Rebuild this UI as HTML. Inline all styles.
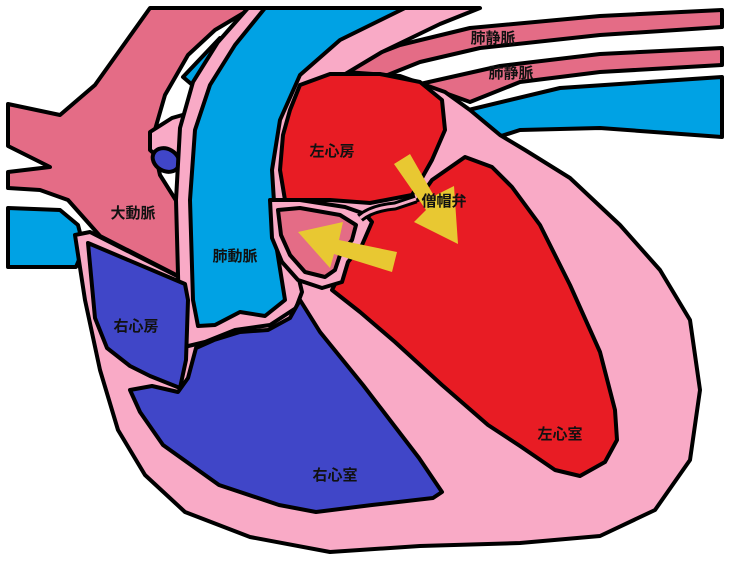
<!DOCTYPE html>
<html><head><meta charset="utf-8"><style>
html,body{margin:0;padding:0;background:#fff;}
svg{display:block;}
text{font-family:"Liberation Sans","Noto Sans CJK JP",sans-serif;font-size:15px;fill:#111;font-weight:bold;text-anchor:middle;}
</style></head><body>
<svg width="730" height="571" viewBox="0 0 730 571" xmlns="http://www.w3.org/2000/svg">
<g stroke="#000" stroke-width="4" stroke-linejoin="round">
<!-- left blue vessel -->
<polygon fill="#00A2E4" points="8,208 60,210 78,225 84,248 76,267 8,267"/>
<!-- pulmonary vein stripes -->
<polygon fill="#E46C86" points="330,72 400,45 470,28 600,16 722,10 722,27 600,35 480,48 420,62 370,82"/>
<polygon fill="#E46C86" points="420,84 500,66 600,54 722,48 722,65 600,72 520,82 470,102"/>
<polygon fill="#00A2E4" points="460,112 560,88 722,77 722,137 600,128 520,130 495,138"/>
<!-- heart body -->
<polygon fill="#F9AAC6" points="75,235 85,300 100,370 118,430 145,475 185,512 250,537 330,552 420,546 520,543 600,536 655,510 690,460 700,390 690,320 660,270 620,225 570,178 525,150 500,135 470,110 445,92 400,76 345,72 300,72 270,100 185,200 185,280 90,232"/>
<!-- aorta -->
<polygon fill="#E46C86" points="150,8 252,8 215,30 188,55 165,95 152,140 160,175 182,210 190,282 100,236 68,200 40,190 8,188 8,172 50,167 8,146 8,104 60,115 95,85 120,50"/>
<!-- blue stub and ring -->
<polygon fill="#00A2E4" points="183,77 220,38 250,55 210,100"/>
<polygon fill="#F9AAC6" points="150,132 172,118 200,110 202,172 170,168 150,150"/>
<ellipse cx="166" cy="160" rx="14" ry="11" fill="#4046C8" transform="rotate(30 166 160)"/>
<!-- PA wall -->
<polygon fill="#F9AAC6" points="248,8 218,42 193,82 180,128 176,200 180,348 205,342 235,330 270,325 296,308 302,292 292,250 287,190 290,150 302,115 332,82 382,52 440,24 480,8"/>
<!-- PA -->
<polygon fill="#00A2E4" points="265,8 235,45 210,85 195,130 190,200 193,300 198,326 215,325 240,312 265,316 285,300 277,250 272,170 280,120 300,75 340,40 405,8"/>
<!-- LA -->
<polygon fill="#E81C24" points="290,110 300,85 330,74 380,74 420,82 442,100 445,130 432,160 418,185 412,195 370,203 330,200 285,200 280,170 283,135"/>
<!-- LV -->
<polygon fill="#E81C24" points="418,200 432,180 465,157 492,167 512,187 540,225 570,285 600,352 615,410 617,440 605,462 580,476 555,470 520,446 488,425 442,385 395,342 360,312 332,290 345,265 350,245 362,225 372,212 400,205"/>
<!-- RA -->
<polygon fill="#4046C8" points="88,243 185,284 188,300 186,360 180,388 150,376 130,366 107,348 95,318"/>
<!-- RV -->
<polygon fill="#4046C8" points="130,390 152,386 178,392 188,378 196,348 214,340 240,332 268,330 290,318 300,300 320,332 363,385 419,458 442,492 433,498 372,505 316,512 279,505 219,485 163,445 140,412"/>
<!-- valve flap -->
<polygon fill="#F9AAC6" points="270,200 300,200 345,207 365,214 372,222 362,245 348,262 342,282 322,288 298,280 282,262 272,238"/>
<polygon fill="#E46C86" points="278,210 300,208 340,215 356,225 352,240 340,255 335,270 325,277 305,272 290,255 281,235"/>
<path d="M360,218 Q372,208 395,206 L416,199" fill="none" stroke-width="9"/>
<path d="M360,218 Q372,208 395,206 L416,199" fill="none" stroke="#F9AAC6" stroke-width="3"/>
</g>
<!-- arrows -->
<polygon fill="#E8C832" points="394,164 410,154 434,196 454,186 458,244 414,222 426,210"/>
<polygon fill="#E8C832" points="298,232 343,222 339,240 397,252 392,272 334,254 330,268"/>
<!-- labels -->
<text x="493" y="43">肺静脈</text>
<text x="511" y="78">肺静脈</text>
<text x="332" y="156">左心房</text>
<text x="444" y="206">僧帽弁</text>
<text x="133" y="218">大動脈</text>
<text x="235" y="261">肺動脈</text>
<text x="136" y="331">右心房</text>
<text x="335" y="480">右心室</text>
<text x="560" y="439">左心室</text>
</svg>
</body></html>
